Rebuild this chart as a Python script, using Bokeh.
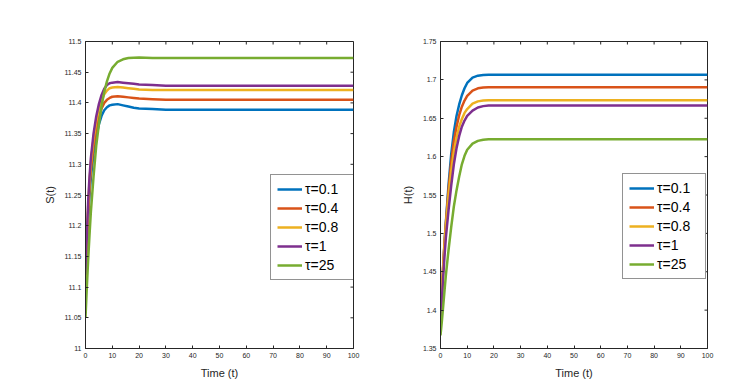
import math
from bokeh.plotting import figure
from bokeh.layouts import row
from bokeh.models import Range1d, FixedTicker, PrintfTickFormatter
from bokeh.embed import file_html
from bokeh.resources import INLINE

# ---- data ----
t = [0, 0.5, 1, 1.5, 2, 3, 4, 5, 6, 7, 8, 9, 10, 12, 14, 16, 18, 20, 25, 30, 40, 50, 60, 80, 100]

S_tau01 = [11.092, 11.157, 11.210, 11.250, 11.278, 11.318, 11.345, 11.365, 11.379, 11.388, 11.393, 11.396, 11.397,
           11.398, 11.396, 11.394, 11.392, 11.391, 11.390, 11.389, 11.389, 11.389, 11.389, 11.389, 11.389]
S_tau04 = [11.103, 11.168, 11.222, 11.262, 11.290, 11.330, 11.357, 11.377, 11.391, 11.400, 11.405, 11.408, 11.410,
           11.411, 11.410, 11.409, 11.408, 11.407, 11.406, 11.405, 11.405, 11.405, 11.405, 11.405, 11.405]
S_tau08 = [11.113, 11.178, 11.232, 11.272, 11.302, 11.342, 11.370, 11.390, 11.404, 11.414, 11.420, 11.424, 11.425,
           11.426, 11.425, 11.424, 11.423, 11.422, 11.421, 11.421, 11.421, 11.421, 11.421, 11.421, 11.421]
S_tau1 = [11.120, 11.185, 11.240, 11.280, 11.310, 11.350, 11.378, 11.398, 11.413, 11.423, 11.429, 11.432, 11.433,
          11.434, 11.433, 11.432, 11.431, 11.430, 11.429, 11.428, 11.428, 11.428, 11.428, 11.428, 11.428]
S_tau25 = [11.050, 11.100, 11.145, 11.185, 11.222, 11.280, 11.330, 11.365, 11.395, 11.418, 11.435, 11.448, 11.457,
           11.467, 11.471, 11.473, 11.4735, 11.474, 11.473, 11.473, 11.473, 11.473, 11.473, 11.473, 11.473]

H_tau01 = [1.375, 1.418, 1.455, 1.487, 1.514, 1.563, 1.603, 1.632, 1.653, 1.668, 1.680, 1.689, 1.696,
           1.703, 1.7055, 1.7063, 1.7066, 1.7066, 1.7066, 1.7066, 1.7066, 1.7066, 1.7066, 1.7066, 1.7066]
H_tau04 = [1.385, 1.424, 1.458, 1.488, 1.513, 1.557, 1.593, 1.620, 1.639, 1.654, 1.665, 1.673, 1.679,
           1.686, 1.689, 1.690, 1.6905, 1.6905, 1.6905, 1.6905, 1.6905, 1.6905, 1.6905, 1.6905, 1.6905]
H_tau08 = [1.390, 1.425, 1.457, 1.485, 1.509, 1.549, 1.581, 1.606, 1.625, 1.639, 1.649, 1.657, 1.662,
           1.669, 1.672, 1.673, 1.6736, 1.6736, 1.6736, 1.6736, 1.6736, 1.6736, 1.6736, 1.6736, 1.6736]
H_tau1 = [1.380, 1.413, 1.443, 1.470, 1.494, 1.530, 1.562, 1.590, 1.611, 1.627, 1.639, 1.647, 1.653,
          1.660, 1.664, 1.6658, 1.6665, 1.6667, 1.6667, 1.6667, 1.6667, 1.6667, 1.6667, 1.6667, 1.6667]
H_tau25 = [1.367, 1.385, 1.405, 1.425, 1.445, 1.478, 1.508, 1.535, 1.556, 1.574, 1.590, 1.601, 1.609,
           1.617, 1.6205, 1.622, 1.6226, 1.6228, 1.6228, 1.6228, 1.6228, 1.6228, 1.6228, 1.6228, 1.6228]

labels = ["τ=0.1", "τ=0.4", "τ=0.8", "τ=1", "τ=25"]
colors = ["#0072BD", "#D95319", "#EDB120", "#7E2F8E", "#77AC30"]

x_ticks = [0, 10, 20, 30, 40, 50, 60, 70, 80, 90, 100]
S_ticks = [11, 11.05, 11.1, 11.15, 11.2, 11.25, 11.3, 11.35, 11.4, 11.45, 11.5]
H_ticks = [1.35, 1.4, 1.45, 1.5, 1.55, 1.6, 1.65, 1.7, 1.75]

FONT = "Liberation Sans"
AX = "#262626"


def style_axis(ax, ticks):
    ax.ticker = FixedTicker(ticks=ticks)
    ax.formatter = PrintfTickFormatter(format="%g")
    ax.major_tick_in = 3
    ax.major_tick_out = 0
    ax.minor_tick_line_color = None
    ax.axis_line_color = AX
    ax.major_tick_line_color = AX
    ax.major_label_text_font = FONT
    ax.major_label_text_color = AX
    ax.major_label_text_font_size = "7px"
    ax.major_label_standoff = 4
    ax.axis_label_text_font = FONT
    ax.axis_label_text_font_style = "normal"
    ax.axis_label_text_font_size = "11px"
    ax.axis_label_text_color = AX
    ax.axis_label_standoff = 6


def make_panel(series, yr, yticks, ylabel, width, bl, br, legend_loc):
    p = figure(width=width, height=382, output_backend="svg", toolbar_location=None,
               x_range=Range1d(0, 100), y_range=Range1d(*yr),
               min_border_left=bl, min_border_right=br, min_border_top=41, min_border_bottom=34)
    p.grid.visible = False
    p.outline_line_color = AX
    p.background_fill_color = "white"
    p.border_fill_color = "white"
    for ys, c, lab in zip(series, colors, labels):
        p.line(t, ys, line_color=c, line_width=2.5, legend_label=lab)
    style_axis(p.xaxis[0], x_ticks)
    style_axis(p.yaxis[0], yticks)
    p.xaxis[0].axis_label = "Time (t)"
    p.yaxis[0].axis_label = ylabel
    # inward tick marks on the top and right edges (box on)
    p.ray(x=x_ticks, y=[yr[1]] * len(x_ticks), length=3, length_units="screen",
          angle=-math.pi / 2, line_color=AX, line_width=1)
    p.ray(x=[100] * len(yticks), y=yticks, length=3, length_units="screen",
          angle=math.pi, line_color=AX, line_width=1)
    lg = p.legend[0]
    lg.location = legend_loc
    lg.label_text_font = FONT
    lg.label_text_font_size = "14px"
    lg.label_text_color = "black"
    lg.glyph_width = 25
    lg.glyph_height = 16
    lg.label_height = 16
    lg.label_width = 42
    lg.label_standoff = 3
    lg.spacing = 3
    lg.padding = 6
    lg.margin = 0
    lg.border_line_color = AX
    lg.border_line_width = 1
    lg.background_fill_color = "white"
    lg.background_fill_alpha = 1
    return p


p1 = make_panel([S_tau01, S_tau04, S_tau08, S_tau1, S_tau25], (11, 11.5), S_ticks, "S(t)",
                398, 85, 45, (185, 68))
p2 = make_panel([H_tau01, H_tau04, H_tau08, H_tau1, H_tau25], (1.35, 1.75), H_ticks, "H(t)",
                337, 40, 28, (182, 69))

layout = row(p1, p2)
open("out.html", "w").write(file_html(layout, INLINE))
